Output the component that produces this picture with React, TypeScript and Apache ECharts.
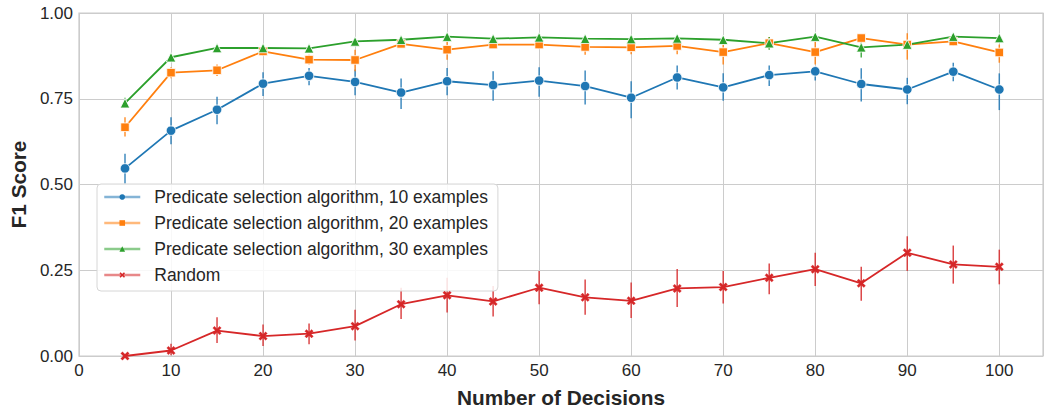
import React, { useEffect, useRef } from 'react';
import * as echarts from 'echarts';

const decisions = [5, 10, 15, 20, 25, 30, 35, 40, 45, 50, 55, 60, 65, 70, 75, 80, 85, 90, 95, 100];

const seriesNames = [
  'Predicate selection algorithm, 10 examples',
  'Predicate selection algorithm, 20 examples',
  'Predicate selection algorithm, 30 examples',
  'Random',
];

const ex10Mean = [0.547, 0.657, 0.718, 0.794, 0.817, 0.799, 0.768, 0.801, 0.790, 0.803, 0.787, 0.753, 0.812, 0.783, 0.819, 0.830, 0.793, 0.777, 0.829, 0.777];
const ex10Low = [0.503, 0.617, 0.676, 0.758, 0.789, 0.760, 0.720, 0.760, 0.744, 0.756, 0.733, 0.693, 0.777, 0.744, 0.787, 0.803, 0.742, 0.734, 0.801, 0.717];
const ex10High = [0.590, 0.696, 0.756, 0.827, 0.840, 0.835, 0.809, 0.840, 0.830, 0.842, 0.832, 0.801, 0.847, 0.824, 0.847, 0.840, 0.839, 0.811, 0.855, 0.824];

const ex20Mean = [0.667, 0.826, 0.833, 0.888, 0.864, 0.863, 0.910, 0.893, 0.908, 0.908, 0.901, 0.900, 0.904, 0.886, 0.912, 0.886, 0.927, 0.908, 0.917, 0.885];
const ex20Low = [0.640, 0.810, 0.816, 0.875, 0.850, 0.830, 0.900, 0.864, 0.898, 0.895, 0.878, 0.880, 0.880, 0.850, 0.895, 0.850, 0.918, 0.864, 0.905, 0.855];
const ex20High = [0.696, 0.842, 0.850, 0.900, 0.878, 0.893, 0.920, 0.917, 0.918, 0.920, 0.917, 0.917, 0.925, 0.908, 0.930, 0.917, 0.935, 0.941, 0.930, 0.908];

const ex30Mean = [0.737, 0.871, 0.898, 0.898, 0.897, 0.917, 0.922, 0.931, 0.925, 0.929, 0.925, 0.924, 0.926, 0.922, 0.912, 0.931, 0.900, 0.908, 0.931, 0.927];
const ex30Low = [0.725, 0.862, 0.890, 0.890, 0.890, 0.910, 0.915, 0.925, 0.918, 0.922, 0.918, 0.917, 0.918, 0.915, 0.893, 0.922, 0.870, 0.895, 0.925, 0.920];
const ex30High = [0.753, 0.880, 0.905, 0.905, 0.905, 0.925, 0.930, 0.938, 0.932, 0.936, 0.932, 0.931, 0.934, 0.930, 0.930, 0.940, 0.917, 0.920, 0.938, 0.934];

const randMean = [0.000, 0.016, 0.074, 0.058, 0.065, 0.087, 0.151, 0.177, 0.159, 0.199, 0.171, 0.161, 0.197, 0.201, 0.228, 0.253, 0.212, 0.301, 0.267, 0.260];
const randLow = [0.000, 0.002, 0.038, 0.029, 0.034, 0.045, 0.108, 0.127, 0.115, 0.151, 0.120, 0.111, 0.143, 0.153, 0.180, 0.204, 0.161, 0.248, 0.211, 0.209];
const randHigh = [0.000, 0.036, 0.113, 0.092, 0.095, 0.135, 0.199, 0.228, 0.204, 0.248, 0.223, 0.214, 0.254, 0.248, 0.270, 0.301, 0.260, 0.349, 0.322, 0.310];

const yTicks = [0, 0.25, 0.5, 0.75, 1.0];

const colors = ['#1f77b4', '#ff7f0e', '#2ca02c', '#d62728'];
const X_PATH = 'path://M0,2 L2,0 L5,3 L8,0 L10,2 L7,5 L10,8 L8,10 L5,7 L2,10 L0,8 L3,5 Z';
const symbols = ['circle', 'rect', 'triangle', X_PATH];
const symbolSizes = [9.5, 8.5, 9.5, 8.5];

const means = [ex10Mean, ex20Mean, ex30Mean, randMean];
const lows = [ex10Low, ex20Low, ex30Low, randLow];
const highs = [ex10High, ex20High, ex30High, randHigh];

const FONT = '"Liberation Sans", Arial, sans-serif';
const TEXT = '#262626';

export default function App() {
  const ref = useRef<HTMLDivElement>(null);
  useEffect(() => {
    if (!ref.current) return;
    const chart = echarts.init(ref.current, null, { renderer: 'svg' });

    const errSeries = seriesNames.map((name, s) => ({
      type: 'custom',
      name: 'err' + s,
      silent: true,
      z: 3,
      data: decisions.map((x, i) => [x, lows[s][i], highs[s][i]]),
      renderItem: (params: any, api: any) => {
        const p1 = api.coord([api.value(0), api.value(1)]);
        const p2 = api.coord([api.value(0), api.value(2)]);
        return {
          type: 'line',
          shape: { x1: p1[0], y1: p1[1], x2: p2[0], y2: p2[1] },
          style: { stroke: colors[s], lineWidth: 1.5, opacity: 0.85 },
        };
      },
    }));

    const lineSeries = seriesNames.map((name, s) => ({
      type: 'line',
      name,
      z: 4,
      data: decisions.map((x, i) => [x, means[s][i]]),
      symbol: symbols[s],
      symbolSize: symbolSizes[s],
      showSymbol: true,
      lineStyle: { color: colors[s], width: 1.8 },
      itemStyle: { color: colors[s], borderColor: s === 3 ? colors[s] : '#ffffff', borderWidth: s === 3 ? 0.3 : 0.8 },
      emphasis: { disabled: true },
    }));

    chart.setOption({
      animation: false,
      color: colors,
      textStyle: { fontFamily: FONT },
      grid: {
        left: 78,
        top: 13,
        width: 965,
        height: 346,
        show: true,
        borderColor: '#cccccc',
        borderWidth: 1.25,
        backgroundColor: '#ffffff',
      },
      legend: {
        orient: 'vertical',
        left: 97,
        top: 184,
        data: seriesNames,
        itemWidth: 36,
        itemHeight: 7,
        itemGap: 8,
        padding: [4, 10, 7, 6],
        backgroundColor: 'rgba(255,255,255,0.85)',
        borderColor: '#d6d6d6',
        borderWidth: 1,
        borderRadius: 4,
        itemStyle: { borderWidth: 0, opacity: 1 },
        lineStyle: { opacity: 0.55, width: 2.5 },
        textStyle: { fontSize: 17.5, color: TEXT, fontFamily: FONT, padding: [0, 0, 0, 9] },
      },
      xAxis: {
        type: 'value',
        min: 0,
        max: 104.75,
        interval: 10,
        name: 'Number of Decisions',
        nameLocation: 'middle',
        nameGap: 31,
        nameTextStyle: { fontSize: 20.8, fontWeight: 'bold', color: TEXT, fontFamily: FONT },
        axisLine: { show: false },
        axisTick: { show: false },
        axisLabel: {
          fontSize: 17,
          color: TEXT,
          margin: 6,
          formatter: (v: number) => (Math.abs(v % 10) < 1e-6 ? String(v) : ''),
        },
        splitLine: { show: true, lineStyle: { color: '#cccccc', width: 1 } },
      },
      yAxis: {
        type: 'value',
        min: 0,
        max: 1,
        interval: 0.25,
        name: 'F1 Score',
        nameLocation: 'middle',
        nameGap: 47,
        nameTextStyle: { fontSize: 20.8, fontWeight: 'bold', color: TEXT, fontFamily: FONT },
        axisLine: { show: false },
        axisTick: { show: false },
        axisLabel: {
          fontSize: 17,
          color: TEXT,
          margin: 6,
          formatter: (v: number) => {
            const t = yTicks.find((k) => Math.abs(k - v) < 1e-9);
            return t === undefined ? '' : t.toFixed(2);
          },
        },
        splitLine: { show: true, lineStyle: { color: '#cccccc', width: 1 } },
      },
      series: [...errSeries, ...lineSeries],
    });
    return () => chart.dispose();
  }, []);
  return <div ref={ref} style={{ position: 'absolute', left: 0, top: 0, width: 1047, height: 413 }} />;
}
